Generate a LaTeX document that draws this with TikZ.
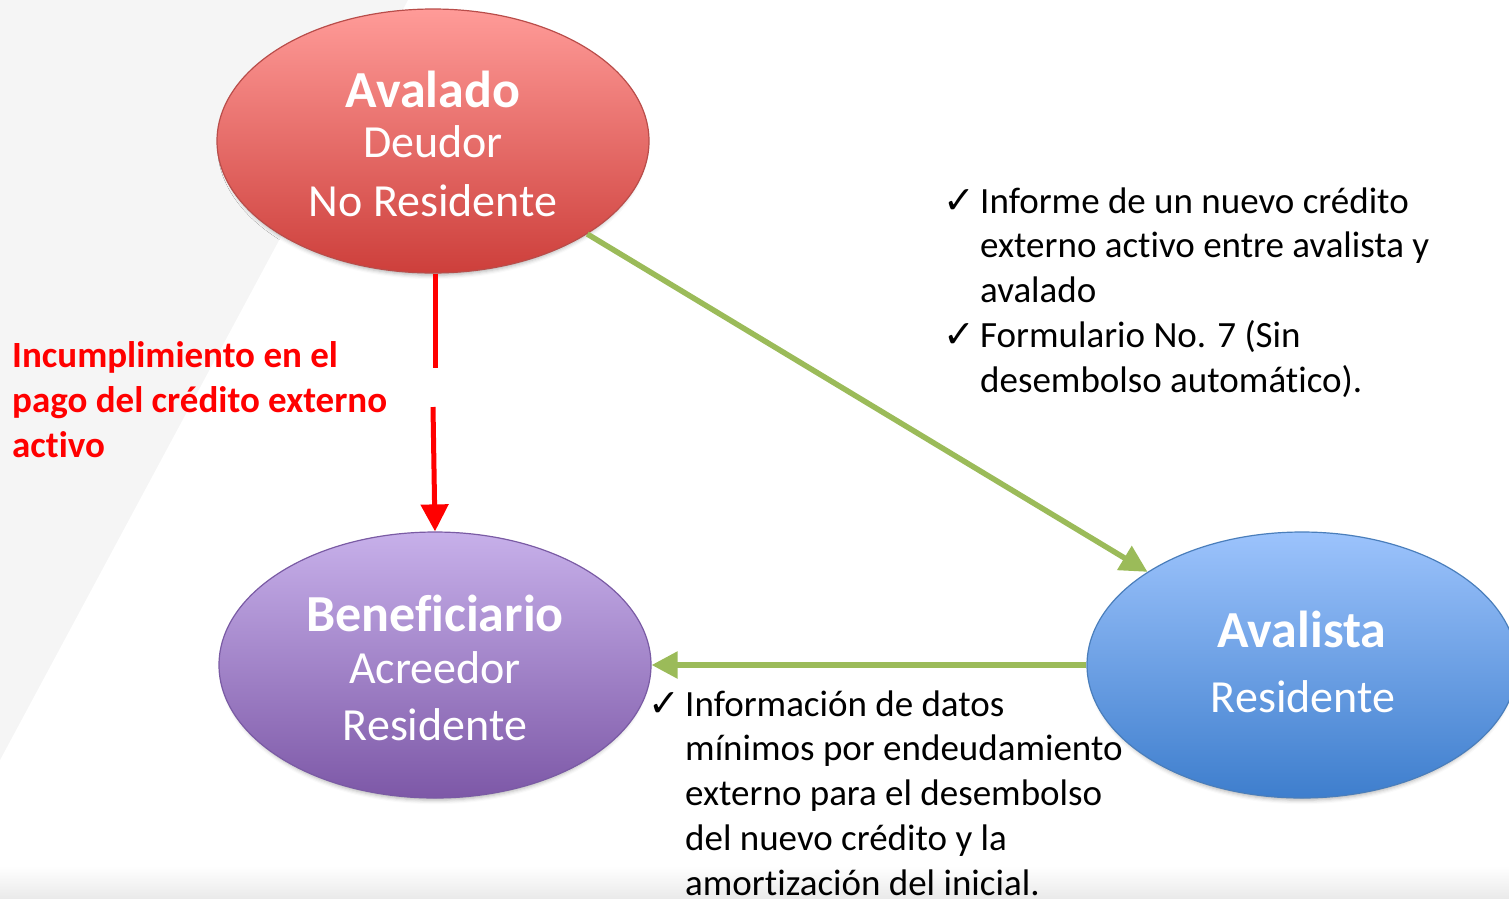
\documentclass[tikz,border=0pt]{standalone}
\usepackage{fontspec}
\setmainfont{Carlito}[Ligatures=NoCommon]
\newfontfamily\symfont{DejaVu Sans}
\usetikzlibrary{shapes.geometric,arrows.meta,shadows.blur}
\definecolor{bggray}{HTML}{F5F5F5}
\definecolor{redtop}{HTML}{FF9B98}
\definecolor{redbot}{HTML}{CD3F3B}
\definecolor{redline}{HTML}{B94D4A}
\definecolor{purtop}{HTML}{C7B0EA}
\definecolor{purbot}{HTML}{7D58A7}
\definecolor{purline}{HTML}{7A5BA4}
\definecolor{blutop}{HTML}{9CC3FC}
\definecolor{blubot}{HTML}{3E7ECD}
\definecolor{bluline}{HTML}{4A7EBB}
\definecolor{arrgreen}{HTML}{9BBB59}
\definecolor{arrred}{HTML}{FF0000}
\newcommand\checkit{\makebox[0pt][r]{\symfont\fontsize{38}{38}\selectfont ✓\hspace{5pt}}}
\begin{document}
\begin{tikzpicture}[x=1pt,y=-1pt,
  party/.style={ellipse, inner sep=0pt, line width=1.2pt,
    blur shadow={shadow xshift=0pt, shadow yshift=-5pt, shadow scale=0.98, shadow blur radius=4pt, shadow opacity=30}},
  title/.style={text=white, anchor=base, inner sep=0pt, font=\fontsize{52}{56}\selectfont\bfseries},
  sub/.style={text=white, anchor=base, inner sep=0pt, font=\fontsize{46}{50}\selectfont},
  bodytxt/.style={anchor=base west, inner sep=0pt, align=left, font=\fontsize{37}{44.7}\selectfont},
  redtxt/.style={anchor=base west, inner sep=0pt, align=left, text=arrred, font=\fontsize{37}{45}\selectfont\bfseries},
  greenarrow/.style={draw=arrgreen, line width=5.5pt, -{Triangle[length=27pt,width=27pt]}},
  redarrow/.style={draw=arrred, line width=5pt}
]
\useasboundingbox (0,0) rectangle (1509,898);
% background
\fill[bggray] (0,0) -- (408,0) -- (0,760) -- cycle;
\shade[top color=white, bottom color={rgb,255:red,234;green,234;blue,234}] (0,866) rectangle (1509,898);

% parties
\node[party, minimum width=432pt, minimum height=264pt, draw=redline, top color=redtop, bottom color=redbot] (avalado) at (433,141) {};
\node[party, minimum width=432pt, minimum height=266pt, draw=purline, top color=purtop, bottom color=purbot] (benef) at (435,665) {};
\node[party, minimum width=430pt, minimum height=266pt, draw=bluline, top color=blutop, bottom color=blubot] (avalista) at (1302,665) {};

% party texts
\node[title] (t1) at (433,107) {Avalado};
\node[sub] (t2) at (433,157) {Deudor};
\node[sub] (t3) at (433,216) {No Residente};
\node[title] (t4) at (435,631) {Beneficiario};
\node[sub] (t5) at (435,683) {Acreedor};
\node[sub] (t6) at (435,740) {Residente};
\node[title] (t7) at (1302,647) {Avalista};
\node[sub] (t8) at (1303,712) {Residente};

% connectors
\coordinate (gapA) at (435,368);
\coordinate (gapB) at (433,407);
\draw[redarrow] (avalado.south -| gapA) -- (gapA);
\draw[redarrow, -{Triangle[length=27pt,width=27pt]}] (gapB) -- (benef.north);
\draw[greenarrow] (avalado) -- (avalista);
\draw[greenarrow, -{Triangle[length=26pt,width=26pt]}] (avalista.west) -- (benef.east);

% labels (base anchor = baseline of last line)
\node[redtxt] (lblred) at (12,457) {Incumplimiento en el\\pago del crédito externo\\activo};
\node[bodytxt] (lblright) at (980,392) {\checkit Informe de un nuevo crédito\\externo activo entre avalista y\\avalado\\\checkit Formulario No. 7 (Sin\\desembolso automático).};
\node[bodytxt] (lblbottom) at (685,895) {\checkit Información de datos\\mínimos por endeudamiento\\externo para el desembolso\\del nuevo crédito y la\\amortización del inicial.};
\end{tikzpicture}
\end{document}
